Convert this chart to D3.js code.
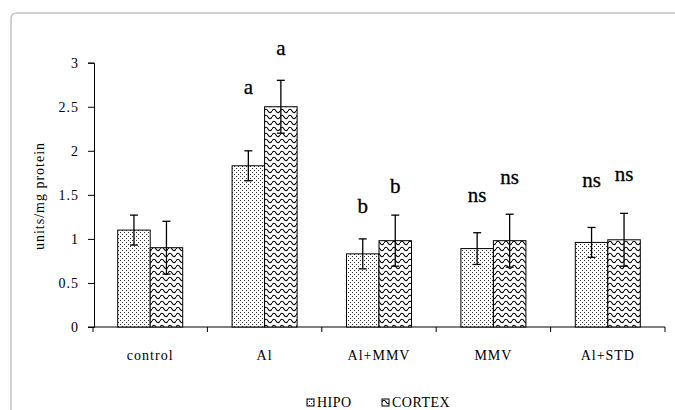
<!DOCTYPE html>
<html>
<head>
<meta charset="utf-8">
<script src="https://cdn.jsdelivr.net/npm/d3@7"></script>
<style>
  body { margin: 0; background: #fff; }
  svg text { font-family: "Liberation Serif", "DejaVu Serif", serif !important; fill: #000; }
</style>
</head>
<body>
<svg id="chart" width="675" height="410"></svg>
<script>
// data
let groups = ["control", "Al", "Al+MMV", "MMV", "Al+STD"];
let series = ["HIPO", "CORTEX"];
let hipo = [1.10, 1.83, 0.83, 0.89, 0.96];
let hipoErr = [0.17, 0.17, 0.17, 0.18, 0.17];
let cortex = [0.90, 2.50, 0.98, 0.98, 0.99];
let cortexErr = [0.30, 0.30, 0.29, 0.30, 0.30];
let hipoSig = ["", "a", "b", "ns", "ns"];
let cortexSig = ["", "a", "b", "ns", "ns"];
// height (in axis units) where each letter sits
let hipoSigAt = [0, 2.64, 1.29, 1.42, 1.59];
let cortexSigAt = [0, 3.09, 1.52, 1.62, 1.66];
let yTicks = [0, 0.5, 1, 1.5, 2, 2.5, 3];

const FONT = "'Liberation Serif', 'DejaVu Serif', serif";

let svg = d3.select("#chart");

// frame of the figure box
svg.append("path")
    .attr("d", "M680,13 L17,13 Q11,13 11,19 L11,420")
    .attr("fill", "none")
    .attr("stroke", "#c4c4c4")
    .attr("stroke-width", 1.5);

// patterns
let defs = svg.append("defs");
let dots = defs.append("pattern")
    .attr("id", "dots")
    .attr("patternUnits", "userSpaceOnUse")
    .attr("width", 4).attr("height", 4);
dots.append("rect").attr("width", 4).attr("height", 4).attr("fill", "#fff");
dots.append("rect").attr("x", 0).attr("y", 0).attr("width", 1).attr("height", 1).attr("fill", "#333");
dots.append("rect").attr("x", 2).attr("y", 2).attr("width", 1).attr("height", 1).attr("fill", "#333");

let waves = defs.append("pattern")
    .attr("id", "waves")
    .attr("patternUnits", "userSpaceOnUse")
    .attr("width", 8).attr("height", 6);
waves.append("rect").attr("width", 8).attr("height", 6).attr("fill", "#fff");
waves.append("path")
    .attr("d", "M0,3 Q2,-0.5 4,3 Q6,6.5 8,3")
    .attr("fill", "none")
    .attr("stroke", "#000")
    .attr("stroke-width", 1.1);

let fills = {HIPO: "url(#dots)", CORTEX: "url(#waves)"};

// scales
let x = d3.scaleBand().domain(groups).range([93, 665]).padding(0);
let x1 = d3.scaleBand().domain(series).range([0, x.bandwidth()]).paddingInner(0).paddingOuter(0.76);
let y = d3.scaleLinear().domain([0, 3]).range([327, 62.7]);

// y axis
let yAxis = svg.append("g")
    .attr("transform", "translate(94,0)")
    .call(d3.axisLeft(y).tickValues(yTicks).tickSize(6).tickPadding(10).tickFormat(d3.format("")));
yAxis.attr("font-family", FONT);
yAxis.selectAll("text")
    .style("font-family", FONT)
    .style("font-size", "14px")
    .style("letter-spacing", "1px")
    .attr("dx", "1px");

// x axis: ticks at the band boundaries
svg.append("line")
    .attr("x1", 88).attr("x2", 665)
    .attr("y1", y(0)).attr("y2", y(0))
    .attr("stroke", "#000");
let bounds = groups.map(g => x(g)).concat([x.range()[1]]);
svg.selectAll(".xtick")
    .data(bounds)
    .enter().append("line")
    .attr("class", "xtick")
    .attr("x1", d => d).attr("x2", d => d)
    .attr("y1", y(0)).attr("y2", y(0) + 5)
    .attr("stroke", "#000");
svg.selectAll(".xlabel")
    .data(groups)
    .enter().append("text")
    .attr("class", "xlabel")
    .attr("x", d => x(d) + x.bandwidth() / 2)
    .attr("y", 360)
    .attr("text-anchor", "middle")
    .style("font-family", FONT)
    .style("font-size", "14px")
    .style("letter-spacing", "1px")
    .text(d => d);

// y title
svg.append("text")
    .attr("transform", "translate(44,196) rotate(-90)")
    .attr("text-anchor", "middle")
    .style("font-family", FONT)
    .style("font-size", "14px")
    .style("letter-spacing", "1px")
    .text("units/mg protein");

// bars
let rows = [];
groups.forEach((g, i) => {
    rows.push({g: g, s: "HIPO", v: hipo[i], e: hipoErr[i], sig: hipoSig[i], at: hipoSigAt[i]});
    rows.push({g: g, s: "CORTEX", v: cortex[i], e: cortexErr[i], sig: cortexSig[i], at: cortexSigAt[i]});
});

svg.selectAll(".bar")
    .data(rows)
    .enter().append("rect")
    .attr("class", "bar")
    .attr("x", d => x(d.g) + x1(d.s))
    .attr("y", d => y(d.v))
    .attr("width", x1.bandwidth())
    .attr("height", d => y(0) - y(d.v))
    .attr("fill", d => fills[d.s])
    .attr("stroke", "#000")
    .attr("stroke-width", 1);

// error bars
let eb = svg.selectAll(".err")
    .data(rows)
    .enter().append("g")
    .attr("class", "err")
    .attr("transform", d => `translate(${x(d.g) + x1(d.s) + x1.bandwidth() / 2},0)`);
eb.append("line")
    .attr("y1", d => y(d.v - d.e)).attr("y2", d => y(d.v + d.e))
    .attr("stroke", "#000").attr("stroke-width", 1.3);
eb.append("line")
    .attr("x1", -4).attr("x2", 4)
    .attr("y1", d => y(d.v + d.e)).attr("y2", d => y(d.v + d.e))
    .attr("stroke", "#000").attr("stroke-width", 1.3);
eb.append("line")
    .attr("x1", -4).attr("x2", 4)
    .attr("y1", d => y(d.v - d.e)).attr("y2", d => y(d.v - d.e))
    .attr("stroke", "#000").attr("stroke-width", 1.3);

// significance letters
svg.selectAll(".sig")
    .data(rows.filter(d => d.sig !== ""))
    .enter().append("text")
    .attr("class", "sig")
    .attr("x", d => x(d.g) + x1(d.s) + x1.bandwidth() / 2)
    .attr("y", d => y(d.at))
    .attr("text-anchor", "middle")
    .style("font-family", FONT)
    .style("font-size", "21px")
    .style("stroke", "#000")
    .style("stroke-width", 0.3)
    .text(d => d.sig);

// legend
let legendX = {HIPO: 307, CORTEX: 382};
let lg = svg.selectAll(".legend")
    .data(series)
    .enter().append("g")
    .attr("class", "legend")
    .attr("transform", d => `translate(${legendX[d]},399)`);
lg.append("rect")
    .attr("width", 7).attr("height", 7)
    .attr("fill", d => fills[d])
    .attr("stroke", "#000");
lg.append("text")
    .attr("x", 10).attr("y", 7.5)
    .style("font-family", FONT)
    .style("font-size", "14px")
    .style("letter-spacing", "0.5px")
    .text(d => d);
</script>
</body>
</html>
